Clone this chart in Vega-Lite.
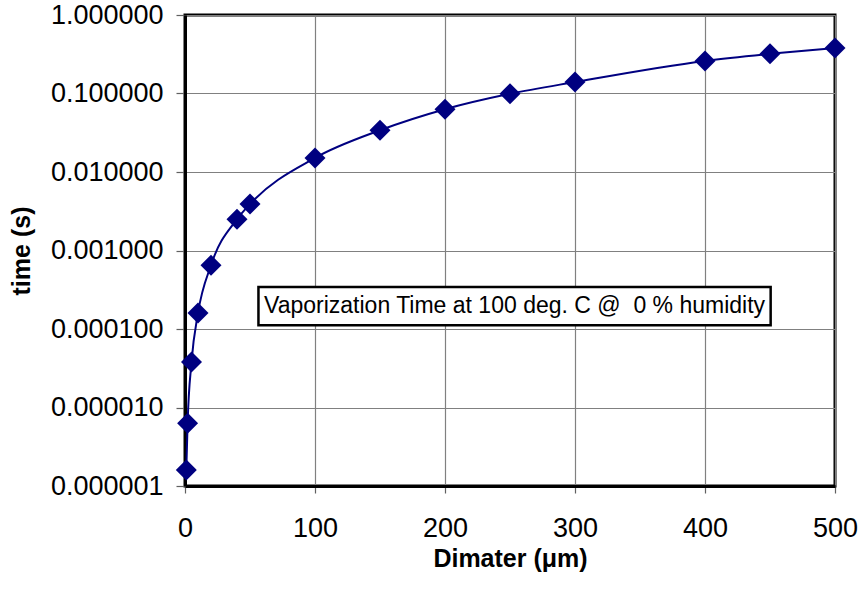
{
  "$schema": "https://vega.github.io/schema/vega-lite/v6.json",
  "autosize": {"type": "none"},
  "width": 650,
  "height": 471,
  "padding": {"left": 185, "top": 15, "right": 25, "bottom": 104},
  "background": "white",
  "config": {
    "font": "Liberation Sans",
    "view": {"stroke": "#000000", "strokeWidth": 3}
  },
  "datasets": {
    "pts": [
      {"d": 1, "t": 0.0000016},
      {"d": 2, "t": 0.0000063},
      {"d": 5, "t": 0.000038},
      {"d": 10, "t": 0.00016},
      {"d": 20, "t": 0.00065},
      {"d": 40, "t": 0.0025},
      {"d": 50, "t": 0.0039},
      {"d": 100, "t": 0.0151},
      {"d": 150, "t": 0.034},
      {"d": 200, "t": 0.063},
      {"d": 250, "t": 0.099},
      {"d": 300, "t": 0.14},
      {"d": 400, "t": 0.26},
      {"d": 450, "t": 0.32},
      {"d": 500, "t": 0.38}
    ],
    "note": [
      {"x1": 56.5, "x2": 450.5, "y1": 0.000343, "y2": 0.000112, "xc": 253.5, "yc": 0.000196, "label": "Vaporization Time at 100 deg. C @ \u00a00 % humidity"}
    ]
  },
  "layer": [
    {
      "data": {"name": "pts"},
      "mark": {"type": "line", "color": "#000080", "strokeWidth": 2, "interpolate": "monotone"},
      "encoding": {
        "x": {
          "field": "d", "type": "quantitative",
          "scale": {"domain": [0, 500], "nice": false},
          "axis": {
            "title": "Dimater (μm)",
            "values": [0, 100, 200, 300, 400, 500],
            "labelFlush": false,
            "grid": true, "gridColor": "#808080", "gridWidth": 1.2, "gridOpacity": 1,
            "domainColor": "#000000", "domainWidth": 3,
            "ticks": true, "tickSize": 7, "tickColor": "#606060", "tickWidth": 1.2,
            "labelPadding": 22,
            "labelFontSize": 27, "labelColor": "#000000", "labelFont": "Liberation Sans",
            "titleFontSize": 25, "titleFontWeight": "bold", "titleColor": "#000000", "titleFont": "Liberation Sans",
            "titlePadding": 5
          }
        },
        "y": {
          "field": "t", "type": "quantitative",
          "scale": {"type": "log", "domain": [0.000001, 1], "nice": false},
          "axis": {
            "title": "time (s)",
            "values": [0.000001, 0.00001, 0.0001, 0.001, 0.01, 0.1, 1],
            "format": ".6f",
            "grid": true, "gridColor": "#808080", "gridWidth": 1.2, "gridOpacity": 1,
            "domainColor": "#000000", "domainWidth": 3,
            "ticks": true, "tickSize": 9, "tickColor": "#606060", "tickWidth": 1.2,
            "labelPadding": 13,
            "labelFontSize": 27, "labelColor": "#000000", "labelFont": "Liberation Sans",
            "titleFontSize": 25, "titleFontWeight": "bold", "titleColor": "#000000", "titleFont": "Liberation Sans",
            "titlePadding": 16
          }
        }
      }
    },
    {
      "data": {"name": "pts"},
      "mark": {"type": "point", "shape": "diamond", "filled": true, "color": "#000080", "size": 440, "opacity": 1},
      "encoding": {
        "x": {"field": "d", "type": "quantitative"},
        "y": {"field": "t", "type": "quantitative"}
      }
    },
    {
      "data": {"name": "note"},
      "mark": {"type": "rect", "fill": "white", "stroke": "#000000", "strokeWidth": 2.5},
      "encoding": {
        "x": {"field": "x1", "type": "quantitative"},
        "x2": {"field": "x2"},
        "y": {"field": "y1", "type": "quantitative"},
        "y2": {"field": "y2"}
      }
    },
    {
      "data": {"name": "note"},
      "mark": {"type": "text", "fontSize": 23, "font": "Liberation Sans", "color": "#000000", "align": "center", "baseline": "middle"},
      "encoding": {
        "x": {"field": "xc", "type": "quantitative"},
        "y": {"field": "yc", "type": "quantitative"},
        "text": {"field": "label"}
      }
    }
  ]
}
